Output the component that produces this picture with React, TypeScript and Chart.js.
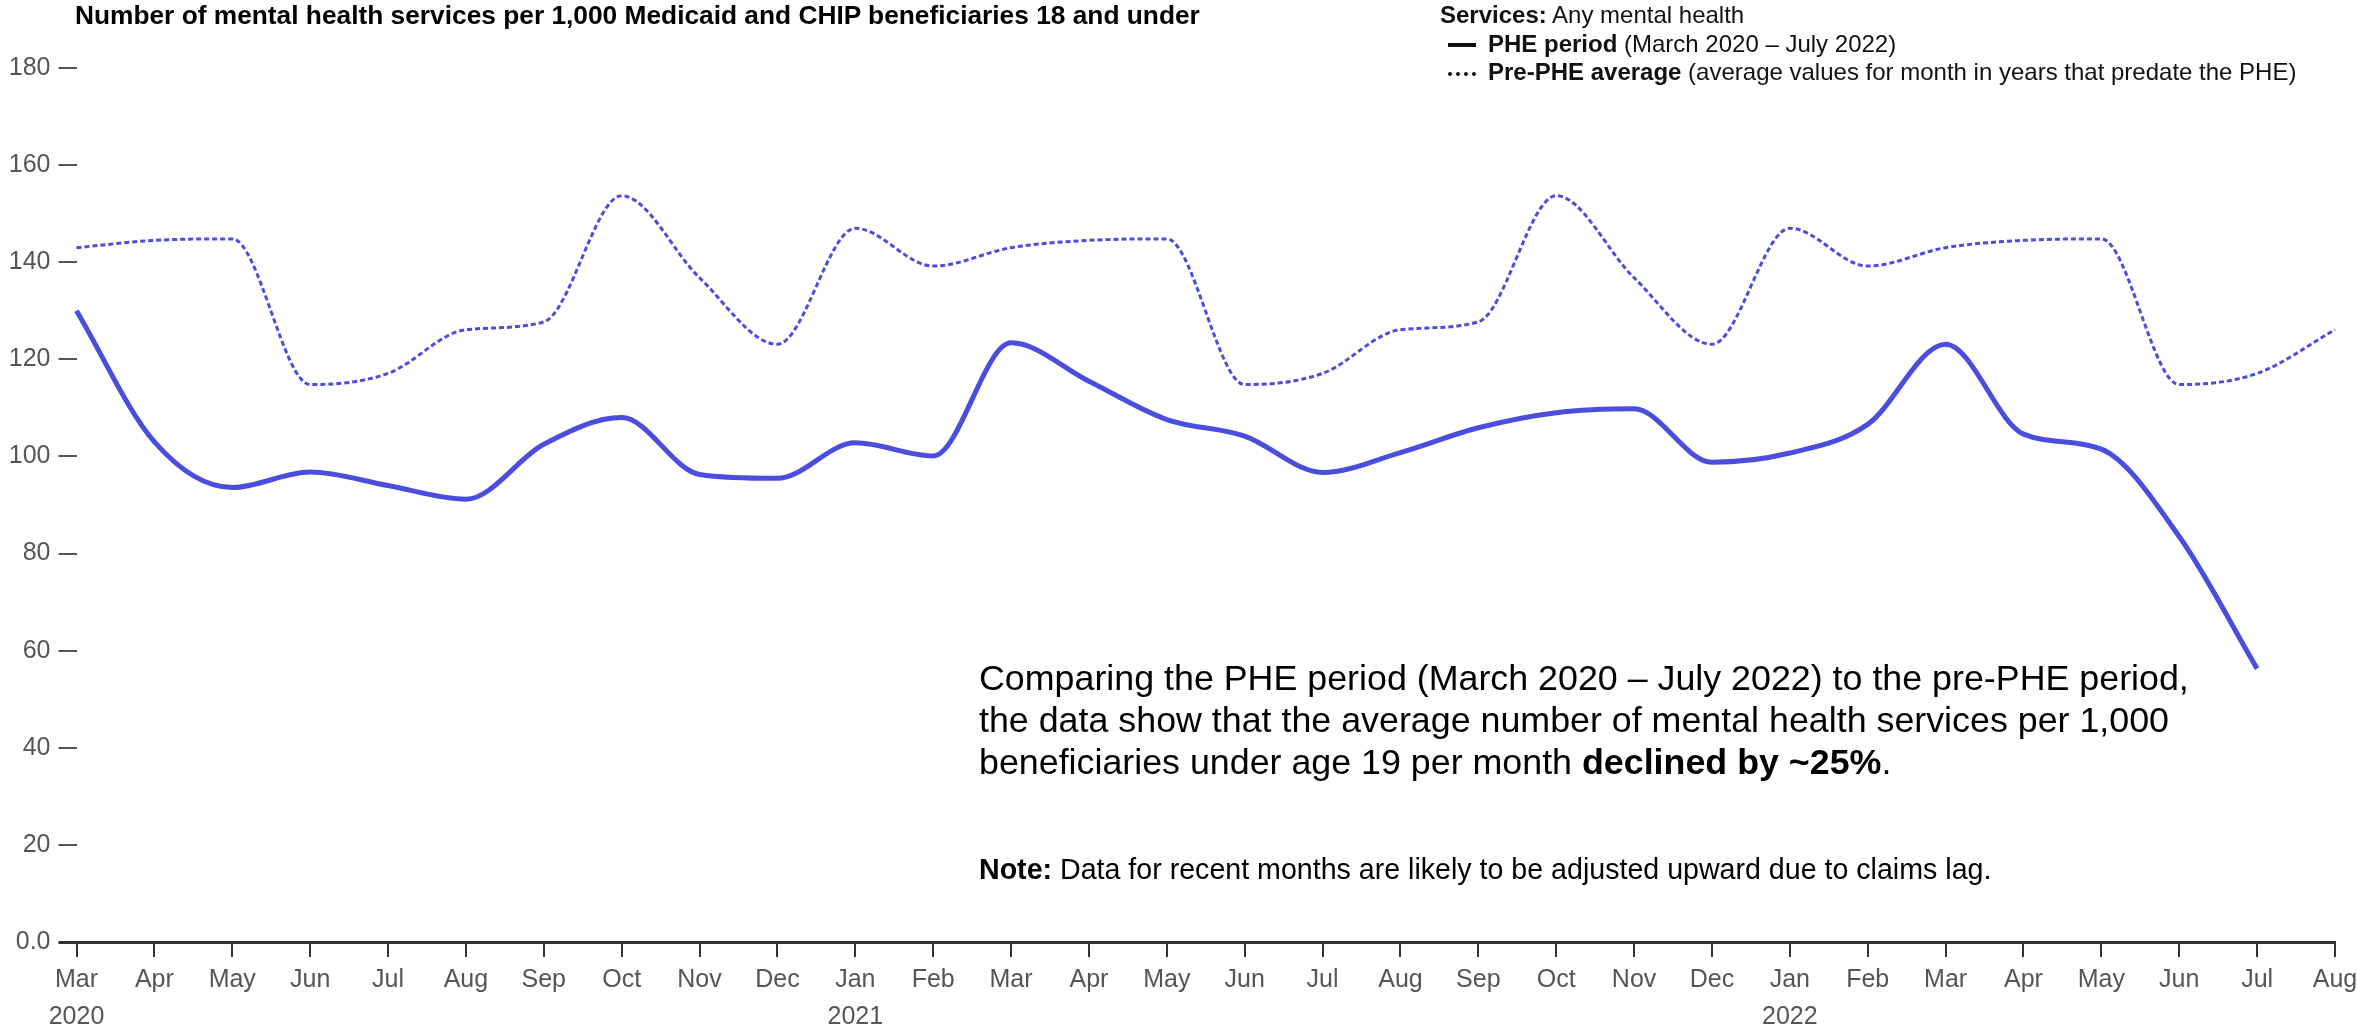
import React, { useEffect, useRef } from 'react';
import { Chart, registerables } from 'chart.js';

Chart.register(...registerables);

const monthLabels = [
  'Mar', 'Apr', 'May', 'Jun', 'Jul', 'Aug', 'Sep', 'Oct', 'Nov', 'Dec',
  'Jan', 'Feb', 'Mar', 'Apr', 'May', 'Jun', 'Jul', 'Aug', 'Sep', 'Oct', 'Nov', 'Dec',
  'Jan', 'Feb', 'Mar', 'Apr', 'May', 'Jun', 'Jul', 'Aug',
];
const yearLabelIndex = [0, 10, 22];
const yearLabels = ['2020', '2021', '2022'];

// PHE period (March 2020 – July 2022)
const pheValues = [
  130.0, 103.0, 93.6, 96.8, 94.0, 91.2, 102.5, 108.0, 96.3, 95.5,
  102.8, 100.1, 123.4, 115.5, 107.6, 104.2, 96.7, 100.8, 105.9, 109.0, 109.8, 98.8,
  100.7, 106.6, 123.1, 104.6, 101.5, 83.5, 56.3,
];
// Pre-PHE average for each month
const prePheValues = [
  143.0, 144.5, 144.8, 114.8, 117.1, 126.1, 127.7, 153.7, 136.8, 123.1,
  147.0, 139.2, 143.0, 144.5, 144.8, 114.8, 117.1, 126.1, 127.7, 153.7, 136.8, 123.1,
  147.0, 139.2, 143.0, 144.5, 144.8, 114.8, 117.1, 126.1,
];

const yMin = 0;
const yMax = 180;
const yStep = 20;

const LINE_COLOR = 'rgb(76, 76, 222)';
const FONT = '"Liberation Sans", Arial, sans-serif';

export default function App() {
  const canvasRef = useRef<HTMLCanvasElement | null>(null);

  useEffect(() => {
    const canvas = canvasRef.current;
    if (!canvas) return;
    const chart = new Chart(canvas, {
      type: 'line',
      data: {
        labels: monthLabels,
        datasets: [
          {
            label: 'Pre-PHE average',
            data: prePheValues,
            borderColor: LINE_COLOR,
            borderWidth: 3,
            borderDash: [5, 3],
            pointRadius: 0,
            cubicInterpolationMode: 'monotone',
            fill: false,
          },
          {
            label: 'PHE period',
            data: pheValues,
            borderColor: LINE_COLOR,
            borderWidth: 5,
            pointRadius: 0,
            cubicInterpolationMode: 'monotone',
            fill: false,
          },
        ],
      },
      options: {
        responsive: false,
        animation: false,
        devicePixelRatio: 1,
        layout: { padding: { top: 68, right: 22, left: 0, bottom: 0 } },
        plugins: { legend: { display: false }, tooltip: { enabled: false } },
        scales: {
          x: {
            type: 'category',
            offset: false,
            grid: {
              drawOnChartArea: false,
              drawTicks: true,
              tickLength: 15,
              color: '#333',
              lineWidth: 2,
              offset: false,
            },
            border: { display: true, color: '#333', width: 3 },
            ticks: {
              autoSkip: false,
              maxRotation: 0,
              minRotation: 0,
              padding: 4,
              color: '#555',
              font: { family: FONT, size: 25, lineHeight: 1.5 },
              callback: (_v: any, idx: number) => {
                const yi = yearLabelIndex.indexOf(idx);
                return yi >= 0 ? [monthLabels[idx], yearLabels[yi]] : monthLabels[idx];
              },
            },
            afterFit: (scale: any) => {
              scale.height = 83;
              scale.paddingLeft = 0;
              scale.paddingRight = 0;
            },
          },
          y: {
            min: yMin,
            max: yMax,
            grid: {
              drawOnChartArea: false,
              drawTicks: true,
              tickLength: 18,
              color: (ctx: any) => (ctx.tick && ctx.tick.value === 0 ? '#333' : '#555'),
              lineWidth: (ctx: any) => (ctx.tick && ctx.tick.value === 0 ? 3 : 2),
            },
            border: { display: false },
            ticks: {
              stepSize: yStep,
              padding: 8,
              color: '#555',
              font: { family: FONT, size: 25 },
              callback: (v: any) => (Number(v) === 0 ? '0.0' : String(v)),
            },
            afterFit: (scale: any) => {
              scale.width = 76.5;
            },
          },
        },
      },
    });
    return () => chart.destroy();
  }, []);

  const textBase: React.CSSProperties = {
    position: 'absolute',
    fontFamily: FONT,
    color: '#000',
    whiteSpace: 'nowrap',
  };

  return (
    <div style={{ position: 'fixed', left: 0, top: 0, width: 2357, height: 1025, background: '#fff' }}>
      <canvas ref={canvasRef} width={2357} height={1025} style={{ width: 2357, height: 1025, display: 'block' }} />
      <div style={{ ...textBase, left: 75, top: 0, fontSize: 26.3, lineHeight: '30px', fontWeight: 'bold' }}>
        Number of mental health services per 1,000 Medicaid and CHIP beneficiaries 18 and under
      </div>
      <div style={{ ...textBase, left: 1440, top: 1, fontSize: 24, lineHeight: '28.5px', color: '#111' }}>
        <div>
          <b>Services:</b> Any mental health
        </div>
        <div>
          <span style={{ display: 'inline-block', width: 28, borderTop: '4px solid #111', verticalAlign: 'middle', marginLeft: 8, marginRight: 12 }} />
          <b>PHE period</b> (March 2020 – July 2022)
        </div>
        <div>
          <span style={{ display: 'inline-block', width: 28, borderTop: '4px dotted #111', verticalAlign: 'middle', marginLeft: 8, marginRight: 12 }} />
          <b>Pre-PHE average</b> (average values for month in years that predate the PHE)
        </div>
      </div>
      <div style={{ ...textBase, left: 979, top: 657, fontSize: 35.8, lineHeight: '42px' }}>
        <div>Comparing the PHE period (March 2020 – July 2022) to the pre-PHE period,</div>
        <div>the data show that the average number of mental health services per 1,000</div>
        <div>
          beneficiaries under age 19 per month <b>declined by ~25%</b>.
        </div>
      </div>
      <div style={{ ...textBase, left: 979, top: 852, fontSize: 28.6, lineHeight: '34px' }}>
        <b>Note:</b> Data for recent months are likely to be adjusted upward due to claims lag.
      </div>
    </div>
  );
}
